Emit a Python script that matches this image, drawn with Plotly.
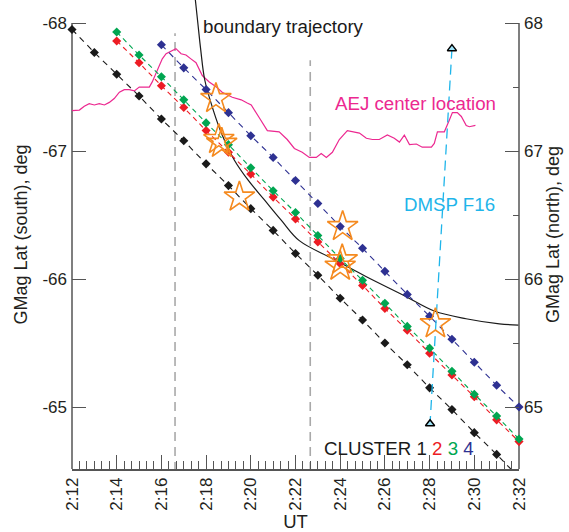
import plotly.graph_objects as go

FONT = "Liberation Sans, Arial, Helvetica, sans-serif"

# ---- data (UT minutes after 2:00, |GMag lat| in deg) ----
tick_minutes = list(range(12, 33, 2))
tick_labels = ["2:%d" % m for m in tick_minutes]
lat_ticks = [65, 66, 67, 68]
lat_south_labels = ["-65", "-66", "-67", "-68"]
lat_north_labels = ["65", "66", "67", "68"]

c1_t = list(range(12, 33))
c1_lat = [67.95, 67.77, 67.60, 67.43, 67.25, 67.08, 66.90, 66.73, 66.55, 66.38, 66.20,
          66.03, 65.85, 65.68, 65.50, 65.33, 65.15, 64.98, 64.80, 64.63, 64.45]
c2_t = list(range(14, 33))
c2_lat = [67.86, 67.69, 67.51, 67.34, 67.16, 66.99, 66.82, 66.64, 66.47, 66.29, 66.12,
          65.95, 65.77, 65.60, 65.42, 65.25, 65.08, 64.90, 64.73]
c3_t = list(range(14, 33))
c3_lat = [67.93, 67.75, 67.58, 67.40, 67.22, 67.05, 66.87, 66.69, 66.52, 66.34, 66.16,
          65.99, 65.81, 65.63, 65.46, 65.28, 65.10, 64.93, 64.75]
c4_t = list(range(16, 33))
c4_lat = [67.83, 67.65, 67.48, 67.30, 67.12, 66.95, 66.77, 66.59, 66.41, 66.24, 66.06,
          65.88, 65.71, 65.53, 65.35, 65.17, 65.00]

aej_t = [12.00, 12.33, 12.55, 12.77, 13.00, 13.22, 13.45, 13.67, 13.89, 14.12, 14.34, 14.56,
         14.79, 15.01, 15.23, 15.46, 15.59, 15.76, 15.91, 16.04, 16.21, 16.43, 16.65, 16.88,
         17.10, 17.32, 17.55, 17.83, 18.14, 18.46, 18.72, 19.17, 19.57, 19.84, 20.02, 20.38,
         20.74, 21.27, 21.63, 21.95, 22.30, 22.62, 22.93, 23.15, 23.38, 23.65, 23.96, 24.32,
         24.54, 24.86, 25.17, 25.44, 25.75, 26.11, 26.42, 26.65, 26.87, 27.10, 27.41, 27.67,
         28.08, 28.21, 28.35, 28.66, 28.88, 29.02, 29.24, 29.42, 29.64, 29.78, 30.05]
aej_lat = [67.315, 67.32, 67.35, 67.37, 67.36, 67.37, 67.36, 67.38, 67.41, 67.46, 67.48, 67.48,
           67.47, 67.50, 67.50, 67.50, 67.54, 67.61, 67.67, 67.72, 67.76, 67.78, 67.80, 67.76,
           67.75, 67.72, 67.69, 67.59, 67.54, 67.50, 67.46, 67.42, 67.40, 67.375, 67.36, 67.26,
           67.16, 67.15, 67.09, 67.02, 66.99, 66.95, 66.95, 66.98, 66.95, 66.99, 67.09, 67.16,
           67.15, 67.14, 67.10, 67.09, 67.09, 67.125, 67.10, 67.07, 67.125, 67.05, 67.055, 67.03,
           67.03, 67.06, 67.15, 67.15, 67.24, 67.30, 67.30, 67.27, 67.20, 67.19, 67.20]

bnd_t = [17.52, 17.63, 17.76, 17.94, 18.32, 18.72, 19.26, 19.89, 20.60, 21.36, 22.17,
         23.65, 25.15, 26.87, 28.21, 29.63, 31.12, 31.97]
bnd_lat = [68.18, 68.00, 67.79, 67.555, 67.32, 67.125, 66.93, 66.77, 66.62, 66.46, 66.30,
           66.16, 66.02, 65.87, 65.75, 65.69, 65.65, 65.64]

star_t = [18.44, 18.57, 18.70, 19.49, 24.11, 24.09, 24.00, 28.26]
star_lat = [67.41, 67.09, 67.06, 66.64, 66.41, 66.15, 66.10, 65.65]

dmsp_t = [29.00, 28.02]
dmsp_lat = [67.80, 64.87]

vline_t = [16.61, 22.66]
vline_top = [67.92, 67.71]
vline_bottom = 64.50

Y_RANGE = [64.516, 68.18]
X_RANGE = [12, 32]

BLACK = "#1a1a1a"
RED = "#ed1c24"
GREEN = "#00a651"
BLUE = "#2e3192"
PINK = "#ec2890"
CYAN = "#1fb5ea"
ORANGE = "#f58a1f"
AXIS = "#555555"

fig = go.Figure()

# grey dashed verticals
for t, top in zip(vline_t, vline_top):
    fig.add_trace(go.Scatter(x=[t, t], y=[vline_bottom, top], mode="lines",
                             line=dict(color="#a9a9a9", width=1.6, dash="9px,6px"),
                             hoverinfo="skip", showlegend=False))

# AEJ center
fig.add_trace(go.Scatter(x=aej_t, y=aej_lat, mode="lines",
                         line=dict(color=PINK, width=1.2), showlegend=False))

# boundary trajectory
fig.add_trace(go.Scatter(x=bnd_t, y=bnd_lat, mode="lines",
                         line=dict(color=BLACK, width=1.2, shape="spline", smoothing=1.0),
                         showlegend=False))

# clusters
for t, lat, col, dash in [(c1_t, c1_lat, BLACK, "6px,5px"),
                          (c2_t, c2_lat, RED, "5px,4px"),
                          (c3_t, c3_lat, GREEN, "5px,4px"),
                          (c4_t, c4_lat, BLUE, "6px,5px")]:
    fig.add_trace(go.Scatter(x=t, y=lat, mode="lines+markers", cliponaxis=False,
                             line=dict(color=col, width=1.1, dash=dash),
                             marker=dict(symbol="diamond", size=7, color=col),
                             showlegend=False))

# DMSP F16
fig.add_trace(go.Scatter(x=dmsp_t, y=dmsp_lat, mode="lines",
                         line=dict(color=CYAN, width=1.3, dash="10px,6px"), showlegend=False))
fig.add_trace(go.Scatter(x=dmsp_t, y=dmsp_lat, mode="markers", cliponaxis=False,
                         marker=dict(symbol="triangle-up", size=8, color="#9fe3f8",
                                     line=dict(color="black", width=1.5)),
                         showlegend=False))

# stars
fig.add_trace(go.Scatter(x=star_t, y=star_lat, mode="markers",
                         marker=dict(symbol="star-open", size=23, color=ORANGE,
                                     line=dict(width=1.6)),
                         showlegend=False))

# right axis dummy
fig.add_trace(go.Scatter(x=[X_RANGE[0]], y=[Y_RANGE[0]], yaxis="y2", mode="markers",
                         marker=dict(opacity=0), hoverinfo="skip", showlegend=False))

fs = 18.7
ann = [
    dict(x=17.77, y=67.97, text="boundary trajectory", color=BLACK),
    dict(x=23.66, y=67.37, text="AEJ center location", color=PINK),
    dict(x=26.77, y=66.58, text="DMSP F16", color=CYAN),
    dict(x=23.19, y=64.68,
         text="CLUSTER 1 <span style='color:%s'>2</span> <span style='color:%s'>3</span> "
              "<span style='color:%s'>4</span>" % (RED, GREEN, BLUE), color=BLACK),
]
annotations = [dict(x=a["x"], y=a["y"], xref="x", yref="y", text=a["text"], showarrow=False,
                    xanchor="left", yanchor="middle",
                    font=dict(family=FONT, size=fs, color=a["color"])) for a in ann]

shapes = [
    dict(type="line", xref="paper", yref="y", x0=0, x1=0, y0=Y_RANGE[0], y1=68,
         line=dict(color=AXIS, width=1.5), layer="below"),
    dict(type="line", xref="paper", yref="y", x0=1, x1=1, y0=Y_RANGE[0], y1=68,
         line=dict(color=AXIS, width=1.5), layer="below"),
]

fig.update_layout(
    width=569, height=532,
    margin=dict(l=72, r=50, t=0, b=63),
    paper_bgcolor="white", plot_bgcolor="white",
    font=dict(family=FONT, size=17, color="#231f20"),
    showlegend=False,
    annotations=annotations,
    shapes=shapes,
    xaxis=dict(range=X_RANGE, tickmode="array", tickvals=tick_minutes, ticktext=tick_labels,
               tickangle=-90, ticks="inside", ticklen=14, tickwidth=1.2, tickcolor=AXIS,
               showline=True, linecolor=AXIS, linewidth=1.5, showgrid=False, zeroline=False,
               minor=dict(tickmode="linear", tick0=12, dtick=1/3, ticks="inside", ticklen=8,
                          tickwidth=1, tickcolor=AXIS, showgrid=False),
               tickfont=dict(size=17),
               title=dict(text="UT", font=dict(size=18.5), standoff=5)),
    yaxis=dict(range=Y_RANGE, tickmode="array", tickvals=lat_ticks, ticktext=lat_south_labels,
               ticks="inside", ticklen=14, tickwidth=1.2, tickcolor=AXIS,
               showline=False, showgrid=False, zeroline=False, tickfont=dict(size=17),
               ticklabelstandoff=4,
               title=dict(text="GMag Lat (south), deg", font=dict(size=18), standoff=10)),
    yaxis2=dict(range=Y_RANGE, overlaying="y", side="right", tickmode="array",
                tickvals=lat_ticks, ticktext=lat_north_labels,
                ticks="inside", ticklen=14, tickwidth=1.2, tickcolor=AXIS,
                minor=dict(tickmode="linear", tick0=65, dtick=0.5, ticks="inside", ticklen=6,
                           tickwidth=1, tickcolor=AXIS, showgrid=False),
                showline=False, showgrid=False, zeroline=False, tickfont=dict(size=17),
                ticklabelstandoff=4,
                title=dict(text="GMag Lat (north), deg", font=dict(size=18), standoff=2)),
)

fig.write_html("out.html")
